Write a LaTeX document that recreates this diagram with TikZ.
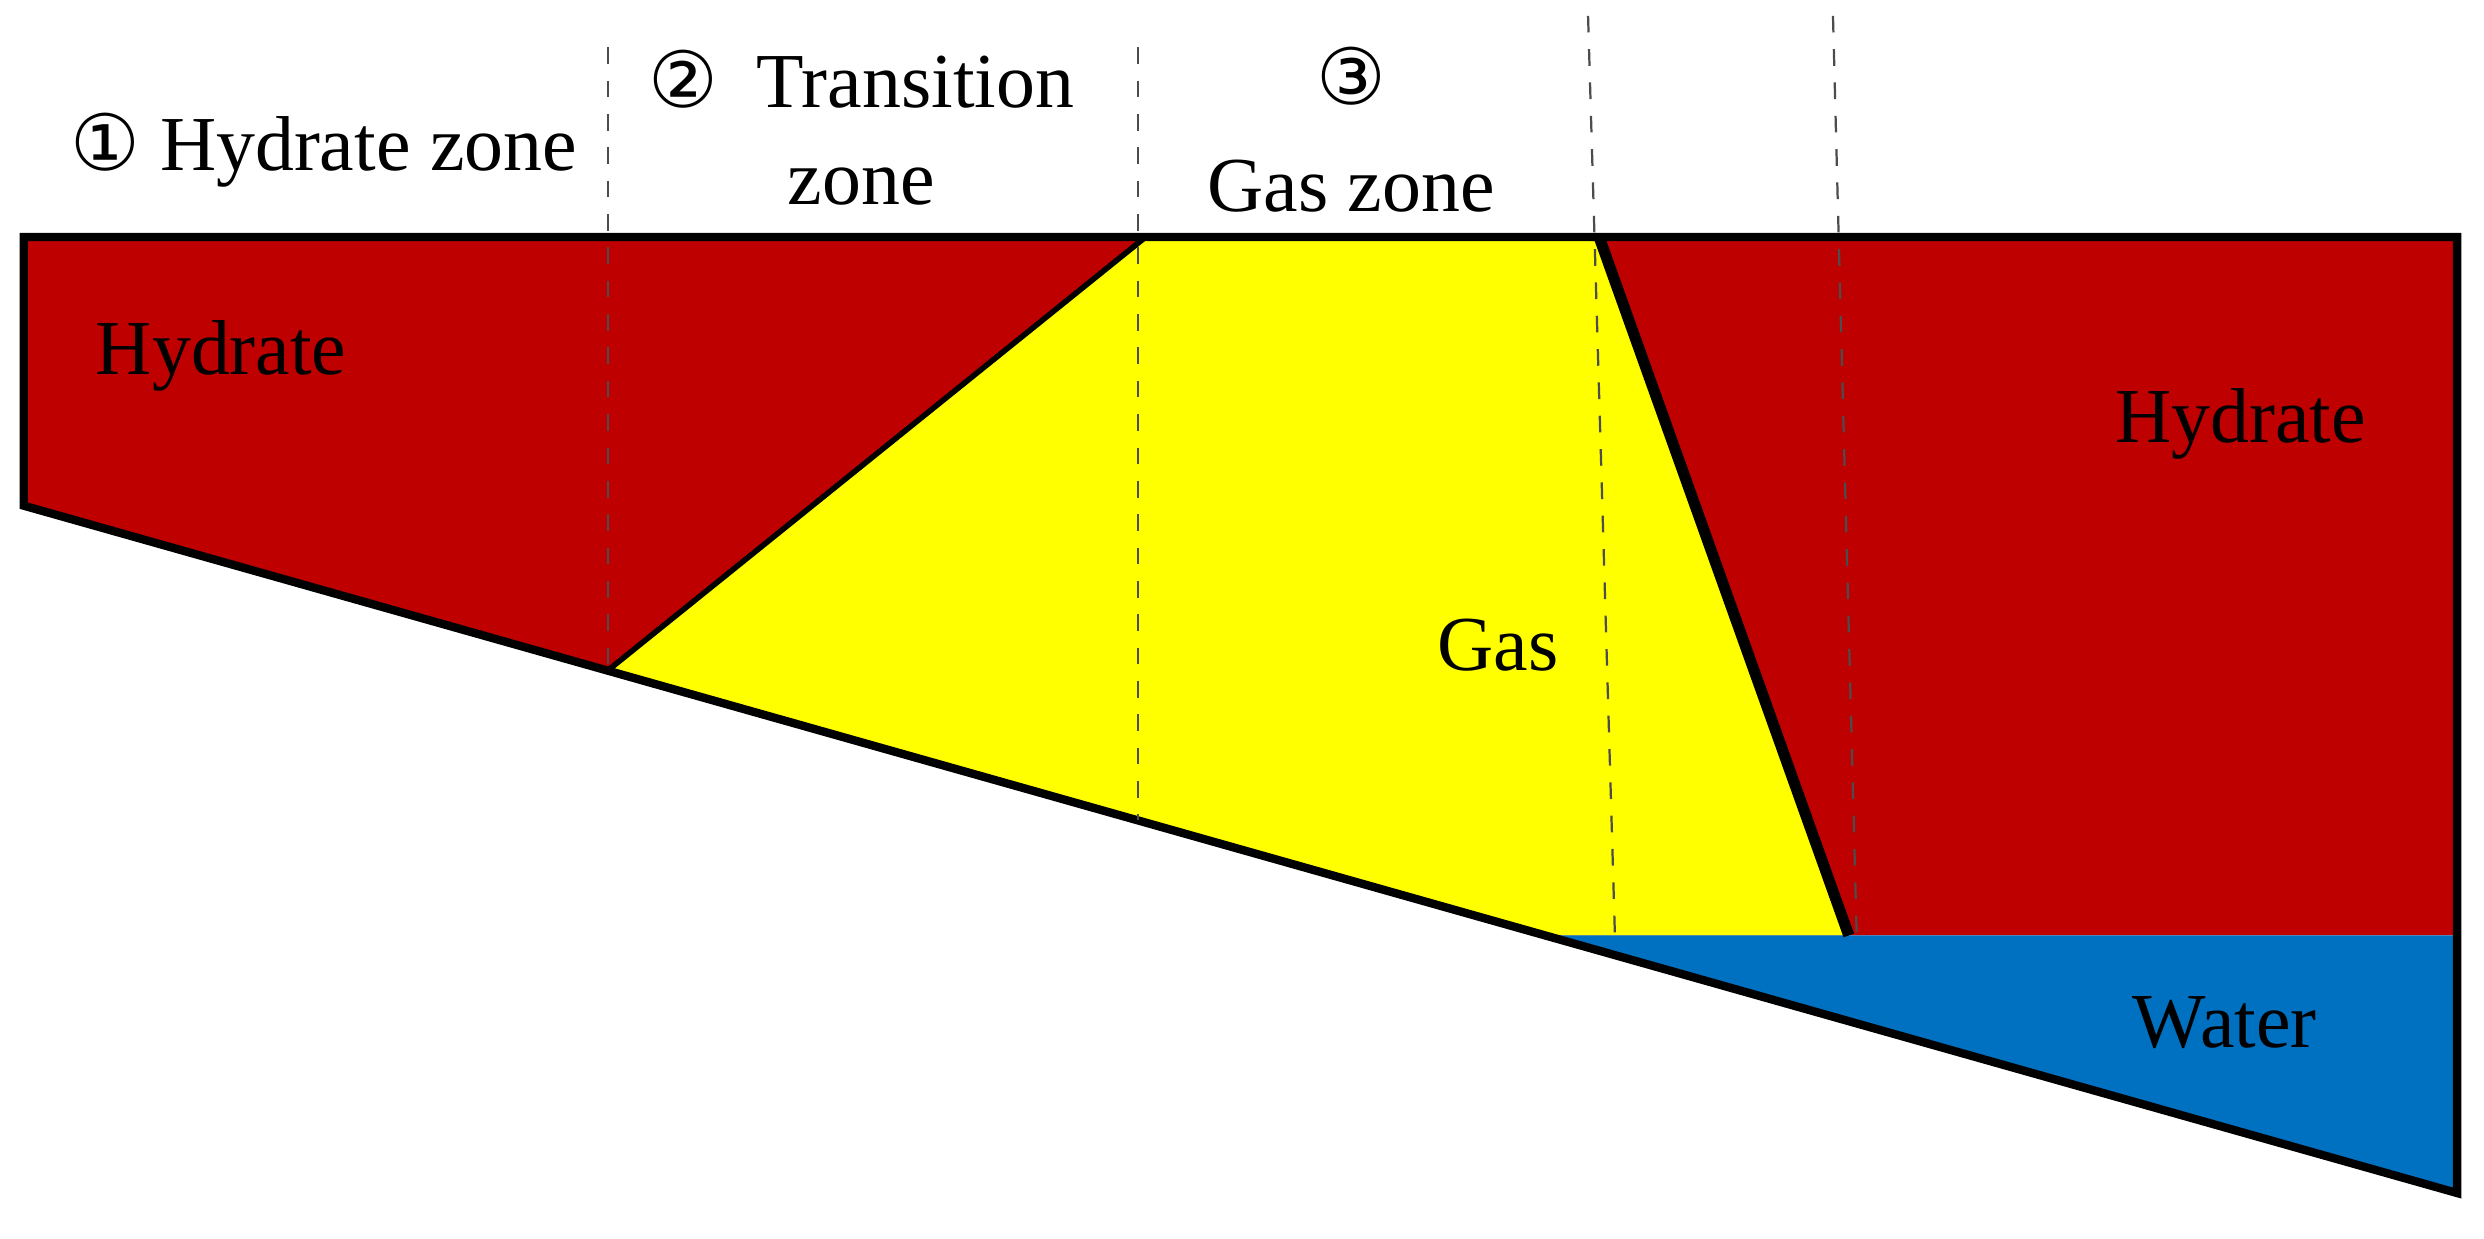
\documentclass[tikz,border=0pt]{standalone}
\usepackage{fontspec}
\setmainfont{Liberation Serif}
\newfontfamily\symf{DejaVu Sans}
\definecolor{hred}{HTML}{BE0000}
\definecolor{gyel}{HTML}{FFFF00}
\definecolor{wblu}{HTML}{0070C0}
\begin{document}
\begin{tikzpicture}[x=0.01cm,y=-0.01cm,
  lab/.style={font=\fontsize{14}{16}\selectfont, inner sep=0pt},
  dsh/.style={dashed, thin, black!70}]
\useasboundingbox (0,0) rectangle (1572,784);
\coordinate (tl) at (15,150);
\coordinate (tr) at (1555,150);
\coordinate (bl) at (15,320);
\coordinate (br) at (1555,755);
\coordinate (a) at (385,424);
\coordinate (b) at (725,150);
\coordinate (c) at (1012,150);
\coordinate (d) at (1170,592);
\coordinate (e) at (978,592);
\coordinate (f) at (1555,592);
\fill[hred] (tl) -- (tr) -- (f) -- (e) -- (bl) -- cycle;
\fill[gyel] (a) -- (b) -- (c) -- (d) -- (e) -- cycle;
\fill[wblu] (e) -- (f) -- (br) -- cycle;
\draw[line width=1pt] (a) -- (b);
\draw[line width=2pt] (c) -- (d);
\draw[line width=1.5pt] (bl) -- (tl) -- (tr) -- (br) -- cycle;
\draw[dsh] (385,30) -- (a);
\draw[dsh] (720,30) -- (720,519);
\draw[dsh] (1005,10) -- (1022,592);
\draw[dsh] (1160,10) -- (1175,592);
\node[lab] (z1) at (205,95) {{\symf ①} Hydrate zone};
\node[lab] (z2) at (545,50) {{\symf ②}\ \ Transition};
\node[lab] (z2b) at (545,118) {zone};
\node[lab] (z3) at (855,48) {{\symf ③}};
\node[lab] (z3b) at (855,118) {Gas zone};
\node[lab] (h1) at (140,225) {Hydrate};
\node[lab] (h2) at (1418,268) {Hydrate};
\node[lab] (g) at (948,408) {Gas};
\node[lab] (w) at (1408,647) {Water};
\end{tikzpicture}
\end{document}
